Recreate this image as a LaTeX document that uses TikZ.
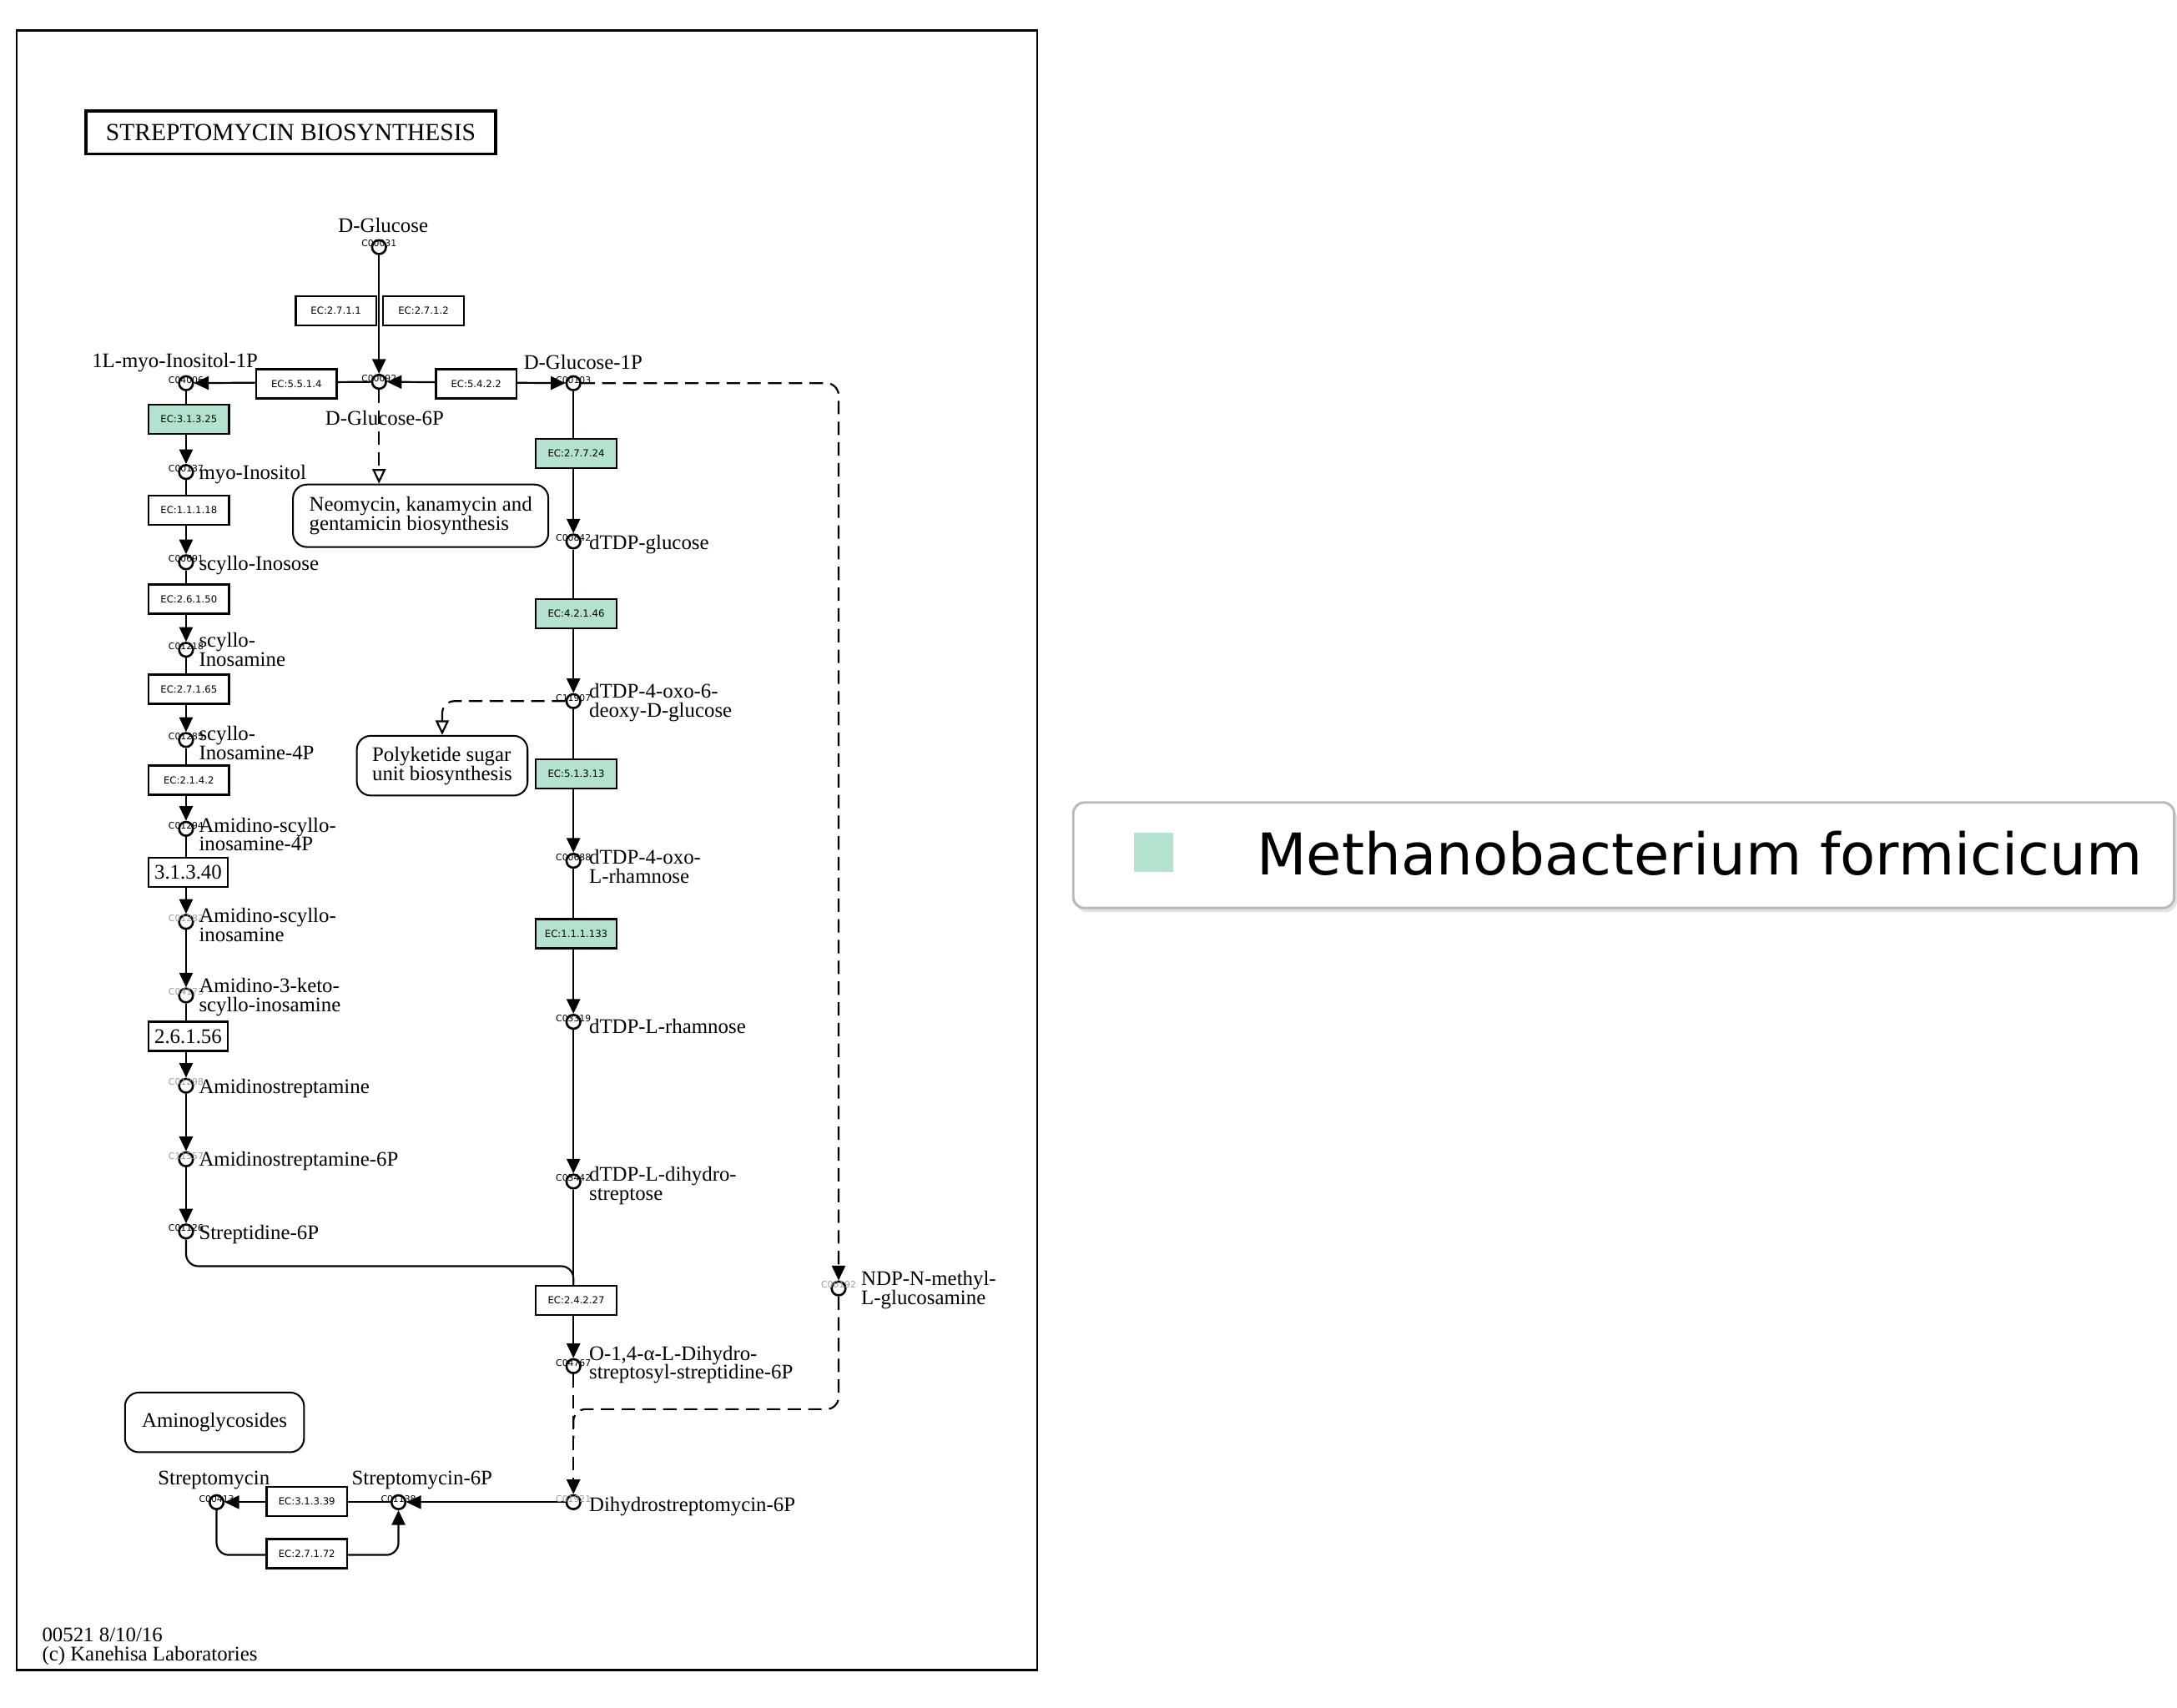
\documentclass[tikz,border=0pt]{standalone}
\usepackage{fontspec}
\setmainfont{Liberation Serif}
\newfontfamily\ecfont{DejaVu Sans}
\usetikzlibrary{arrows.meta}
\pgfdeclarelayer{bg}
\pgfsetlayers{bg,main}
\definecolor{orggreen}{HTML}{B3E3CF}
\definecolor{idgrey}{gray}{0.62}

% compound circle with its small C-number on top
\newcommand\mkcpd[4][cid]{%
  \node[cpd] (#2) at (#3) {};
  \node[#1] (#2id) at ([yshift=0.05cm]#2) {#4};}

\begin{document}
\begin{tikzpicture}[x=0.02cm,y=-0.02cm,
  cpd/.style={circle,draw,line width=0.9pt,fill=white,minimum size=0.2cm,inner sep=0pt},
  cid/.style={font=\ecfont\fontsize{3.7}{3.7}\selectfont,inner sep=0pt},
  cidg/.style={cid,text=idgrey},
  lbl/.style={font=\fontsize{8.5}{7.8}\selectfont,inner sep=0pt,align=left},
  lblr/.style={lbl,anchor=west},
  ecbox/.style={draw,line width=0.8pt,fill=white,minimum width=1.16cm,minimum height=0.42cm,inner sep=0pt,font=\ecfont\fontsize{4}{4}\selectfont},
  ecgreen/.style={ecbox,fill=orggreen},
  ecserif/.style={ecbox,minimum width=1.14cm,font=\fontsize{8.5}{8.5}\selectfont},
  mapbox/.style={draw,line width=0.7pt,rounded corners=0.2cm,inner sep=0pt,align=left,font=\fontsize{8.5}{7.9}\selectfont},
  link/.style={line width=0.75pt},
  conn/.style={link,-{Triangle[length=6pt,width=5.5pt]}},
  both/.style={link,{Triangle[length=6pt,width=5.5pt]}-{Triangle[length=6pt,width=5.5pt]}},
  dsh/.style={line width=0.75pt,dash pattern=on 5.5pt off 3pt},
  dshconn/.style={dsh,-{Triangle[length=6pt,width=5.5pt]}},
  dshmap/.style={dsh,-{Triangle[length=6pt,width=5.5pt,fill=white]}},
  curvy/.style={rounded corners=5pt}
]
\useasboundingbox (0,0) rectangle (1568,1230);

% frame and title
\draw[line width=0.85pt] (12,22) rectangle (747,1203);
\node[draw,line width=1.2pt,minimum width=5.9cm,minimum height=0.62cm,inner sep=0pt,
      font=\fontsize{10.1}{10.1}\selectfont] (title) at (209.5,95.5) {STREPTOMYCIN BIOSYNTHESIS};

% compounds
\mkcpd{c00031}{273,178}{C00031}
\mkcpd{c00092}{273,275}{C00092}
\mkcpd{c04006}{134,276}{C04006}
\mkcpd{c00103}{413,276}{C00103}
\mkcpd{c00137}{134,340}{C00137}
\mkcpd{c00691}{134,405}{C00691}
\mkcpd{c01218}{134,468}{C01218}
\mkcpd{c01285}{134,533}{C01285}
\mkcpd{c01294}{134,597}{C01294}
\mkcpd[cidg]{c01282}{134,664}{C01282}
\mkcpd[cidg]{c04173}{134,717}{C04173}
\mkcpd[cidg]{c01298}{134,782}{C01298}
\mkcpd[cidg]{c11557}{134,835}{C11557}
\mkcpd{c01126}{134,887}{C01126}
\mkcpd{c00842}{413,390}{C00842}
\mkcpd{c11907}{413,505}{C11907}
\mkcpd{c00688}{413,620}{C00688}
\mkcpd{c03319}{413,736}{C03319}
\mkcpd{c03442}{413,851}{C03442}
\mkcpd{c04767}{413,984}{C04767}
\mkcpd[cidg]{c06192}{604,928}{C06192}
\mkcpd[cidg]{c01921}{413,1082}{C01921}
\mkcpd{c01138}{287,1082}{C01138}
\mkcpd{c00413}{156,1082}{C00413}

% compound names
\node[lbl] (n00031) at (276,162) {D-Glucose};
\node[lbl] (n00092) at (277,301) {D-Glucose-6P};
\node[lbl] (n04006) at (126,261) {1L-myo-Inositol-1P};
\node[lbl] (n00103) at (420,261) {D-Glucose-1P};
\node[lblr] (n00137) at (143,342) {myo-Inositol};
\node[lblr] (n00691) at (143,407) {scyllo-Inosose};
\node[lblr] (n01218) at (143,468) {scyllo-\\Inosamine};
\node[lblr] (n01285) at (143,535) {scyllo-\\Inosamine-4P};
\node[lblr] (n01294) at (143,601) {Amidino-scyllo-\\inosamine-4P};
\node[lblr] (n01282) at (143,666) {Amidino-scyllo-\\inosamine};
\node[lblr] (n04173) at (143,718) {Amidino-3-keto-\\scyllo-inosamine};
\node[lblr] (n01298) at (143,784) {Amidinostreptamine};
\node[lblr] (n11557) at (143,836) {Amidinostreptamine-6P};
\node[lblr] (n01126) at (143,889) {Streptidine-6P};
\node[lblr] (n00842) at (424,392) {dTDP-glucose};
\node[lblr] (n11907) at (424,506) {dTDP-4-oxo-6-\\deoxy-D-glucose};
\node[lblr] (n00688) at (424,624) {dTDP-4-oxo-\\L-rhamnose};
\node[lblr] (n03319) at (424,739) {dTDP-L-rhamnose};
\node[lblr] (n03442) at (424,854) {dTDP-L-dihydro-\\streptose};
\node[lblr] (n04767) at (424,983) {O-1,4-α-L-Dihydro-\\streptosyl-streptidine-6P};
\node[lblr] (n06192) at (620,929) {NDP-N-methyl-\\L-glucosamine};
\node[lblr] (n01921) at (424,1085) {Dihydrostreptomycin-6P};
\node[lbl] (n00413) at (154,1066) {Streptomycin};
\node[lbl] (n01138) at (304,1066) {Streptomycin-6P};

% enzymes
\node[ecbox] (e27111) at (242,224) {EC:2.7.1.1};
\node[ecbox] (e27112) at (305,224) {EC:2.7.1.2};
\node[ecbox] (e5514) at (213.5,276.5) {EC:5.5.1.4};
\node[ecbox] (e5422) at (343,276.5) {EC:5.4.2.2};
\node[ecgreen] (e31325) at (136,302) {EC:3.1.3.25};
\node[ecgreen] (e27724) at (415,326.5) {EC:2.7.7.24};
\node[ecbox] (e11118) at (136,367.5) {EC:1.1.1.18};
\node[ecbox] (e26150) at (136,431.5) {EC:2.6.1.50};
\node[ecgreen] (e42146) at (415,442) {EC:4.2.1.46};
\node[ecbox] (e27165) at (136,496.5) {EC:2.7.1.65};
\node[ecgreen] (e51313) at (415,557.5) {EC:5.1.3.13};
\node[ecbox] (e2142) at (136,562) {EC:2.1.4.2};
\node[ecserif] (e31340) at (135.5,628.5) {3.1.3.40};
\node[ecgreen] (e111133) at (415,672.5) {EC:1.1.1.133};
\node[ecserif] (e26156) at (135.5,746.5) {2.6.1.56};
\node[ecbox] (e24227) at (415,936.5) {EC:2.4.2.27};
\node[ecbox] (e31339) at (221,1081.5) {EC:3.1.3.39};
\node[ecbox] (e27172) at (221,1119) {EC:2.7.1.72};

% linked pathway maps
\node[mapbox,minimum width=3.68cm,minimum height=0.9cm] (neo) at (303,371.5)
  {Neomycin, kanamycin and\\gentamicin biosynthesis};
\node[mapbox,minimum width=2.46cm,minimum height=0.86cm] (poly) at (318.5,551.5)
  {Polyketide sugar\\unit biosynthesis};
\node[mapbox,minimum width=2.58cm,minimum height=0.86cm] (amino) at (154.5,1024.5)
  {Aminoglycosides};

% reactions
\begin{pgfonlayer}{bg}
\draw[conn] (c00031) -- (c00092);
\draw[both] (c00092) -- (c00103);
\draw[conn] (c00092) -- (c04006);
\draw[dshmap] (c00092) -- (c00092 |- neo.north);

\draw[conn] (c04006) -- (c00137);
\draw[conn] (c00137) -- (c00691);
\draw[conn] (c00691) -- (c01218);
\draw[conn] (c01218) -- (c01285);
\draw[conn] (c01285) -- (c01294);
\draw[conn] (c01294) -- (c01282);
\draw[conn] (c01282) -- (c04173);
\draw[conn] (c04173) -- (c01298);
\draw[conn] (c01298) -- (c11557);
\draw[conn] (c11557) -- (c01126);
\draw[link,curvy] (c01126) -- (134,912) -- (413,912) -- (e24227.north -| c04767);

\draw[conn] (c00103) -- (c00842);
\draw[conn] (c00842) -- (c11907);
\draw[conn] (c11907) -- (c00688);
\draw[conn] (c00688) -- (c03319);
\draw[conn] (c03319) -- (c03442);
\draw[conn] (c03442) -- (c04767);
\draw[dshmap,curvy] (c11907) -- (poly.north |- c11907) -- (poly.north);

\draw[dshconn,curvy] (c00103) -- (604,276) -- (c06192);
\draw[dsh,curvy] (c06192) -- (604,1015) -- (413,1015) -- (413,1036);
\draw[dshconn] (c04767) -- (c01921);

\draw[conn] (c01921) -- (c01138);
\draw[conn] (c01138) -- (c00413);
\draw[conn,curvy] (c00413) -- (156,1120) -- (287,1120) -- (c01138);
\end{pgfonlayer}

% footer
\node[lbl,anchor=west] (footer) at (30,1186) {00521 8/10/16\\(c) Kanehisa Laboratories};

% organism legend
\fill[gray!22,rounded corners=0.16cm] (775,581) rectangle (1568,657);
\draw[gray!55,line width=1pt,fill=white,rounded corners=0.16cm] (773,578) rectangle (1566,654);
\fill[orggreen] (817,600) rectangle (845,628);
\node[anchor=base west,inner sep=0pt,font=\ecfont\fontsize{23.6}{23.6}\selectfont] (legtext)
  at (905,630) {Methanobacterium formicicum};
\end{tikzpicture}
\end{document}
